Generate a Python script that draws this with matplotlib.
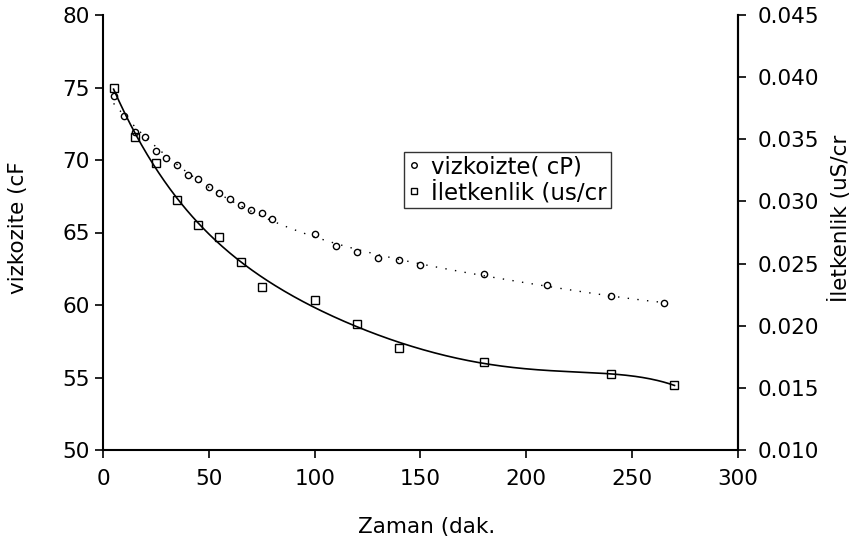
import numpy as np
import matplotlib
matplotlib.use("Agg")
import matplotlib.pyplot as plt
from matplotlib.lines import Line2D

# Data
visc_time = [5, 10, 15, 20, 25, 30, 35, 40, 45, 50, 55, 60, 65, 70, 75, 80,
             100, 110, 120, 130, 140, 150, 180, 210, 240, 265]
visc_vals = [74.4, 73.06, 71.95, 71.59, 70.6, 70.14, 69.66, 69.0, 68.67, 68.12,
             67.75, 67.29, 66.92, 66.55, 66.37, 65.91, 64.92, 64.09, 63.63,
             63.26, 63.1, 62.78, 62.14, 61.36, 60.62, 60.14]

cond_time = [5, 15, 25, 35, 45, 55, 65, 75, 100, 120, 140, 180, 240, 270]
cond_vals = [0.0391, 0.0352, 0.0331, 0.0301, 0.0281, 0.0271, 0.0251, 0.0231,
             0.0221, 0.0201, 0.0182, 0.0171, 0.0161, 0.0152]

xticks = [0, 50, 100, 150, 200, 250, 300]
yticks_left = [50, 55, 60, 65, 70, 75, 80]
yticks_right = [0.010, 0.015, 0.020, 0.025, 0.030, 0.035, 0.040, 0.045]

plt.rcParams['font.family'] = ['DejaVu Sans']
fig = plt.figure(figsize=(8.53, 5.44), dpi=100)
ax = fig.add_axes([103/853, 1-450/544, (738-103)/853, (450-15)/544])
ax2 = ax.twinx()

# trendlines (polynomial fits of data)
vx = np.array(visc_time, float); vy = np.array(visc_vals, float)
cx = np.array(cond_time, float); cy = np.array(cond_vals, float)
pv = np.polyfit(vx, vy, 4)
pc = np.polyfit(cx, cy, 5)
xs_v = np.linspace(vx.min(), vx.max(), 300)
xs_c = np.linspace(cx.min(), cx.max(), 300)
ax.plot(xs_v, np.polyval(pv, xs_v), color='black', lw=1.0, linestyle=(0, (1, 6)))
ax2.plot(xs_c, np.polyval(pc, xs_c), color='black', lw=1.2)

ax.plot(visc_time, visc_vals, linestyle='none', marker='o', ms=4.5, mfc='none',
        mec='black', mew=1.0)
ax2.plot(cond_time, cond_vals, linestyle='none', marker='s', ms=6.0, mfc='none',
         mec='black', mew=1.0)

ax.set_xlim(0, 300)
ax.set_ylim(50, 80)
ax2.set_ylim(0.010, 0.045)
ax.set_xticks(xticks)
ax.set_yticks(yticks_left)
ax2.set_yticks(yticks_right)
ax2.set_yticklabels([f"{v:.3f}" for v in yticks_right])

for a in (ax, ax2):
    a.spines['top'].set_visible(False)
    for s in a.spines.values():
        s.set_linewidth(1.5)
        s.set_color('black')
    a.tick_params(direction='out', length=6, width=1.2, labelsize=15.5, colors='black')
ax2.spines['left'].set_visible(False)
ax2.spines['bottom'].set_visible(False)
ax.tick_params(axis='x', pad=8)
ax2.tick_params(axis='y', pad=8)

ax.set_xlabel("Zaman (dak.", fontsize=15.5)
ax.xaxis.set_label_coords((427-103)/635, 1-(527-15)/435)
ax.set_ylabel("vizkozite (cF", fontsize=15.5)
ax.yaxis.set_label_coords((18-103)/635, 1-(228-15)/435)
ax2.set_ylabel("İletkenlik (uS/cr", fontsize=15.5)
ax2.yaxis.set_label_coords((840-103)/635, 1-(218-15)/435)
ax.xaxis.label.set_va('center')
ax.yaxis.label.set_va('center')
ax2.yaxis.label.set_va('center')

handles = [Line2D([], [], linestyle='none', marker='o', ms=4, mfc='none', mec='black'),
           Line2D([], [], linestyle='none', marker='s', ms=4.5, mfc='none', mec='black')]
leg = ax.legend(handles, ["vizkoizte( cP)", "İletkenlik (us/cr"], loc='upper left',
                bbox_to_anchor=((404-103)/635, 1-(152-15)/435), fontsize=16.5,
                frameon=True, fancybox=False, edgecolor='black', handlelength=0.6,
                handletextpad=0.45, borderpad=0.15, labelspacing=0.1, borderaxespad=0)
leg.get_frame().set_linewidth(1.0)

fig.savefig("out.png", dpi=100)
